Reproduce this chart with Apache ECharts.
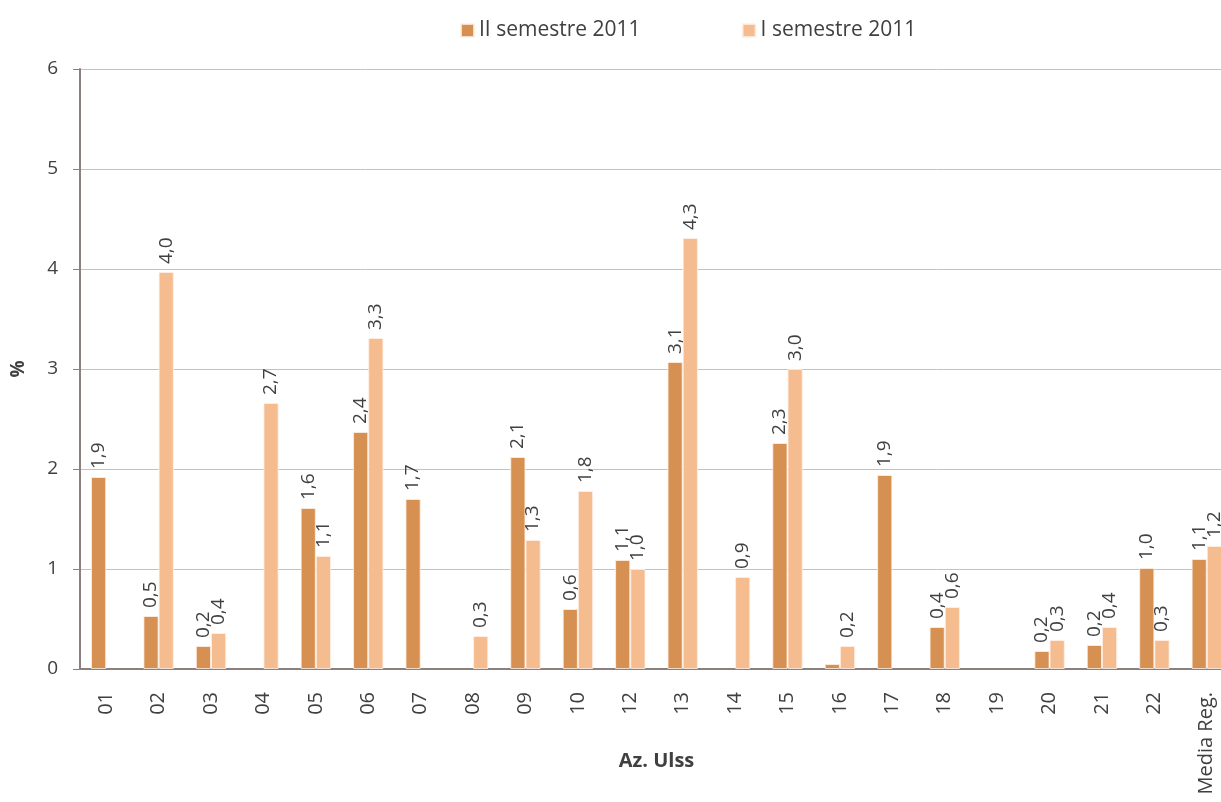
<!DOCTYPE html>
<html><head><meta charset="utf-8">
<script src="https://cdn.jsdelivr.net/npm/echarts@6/dist/echarts.min.js"></script>
<style>html,body{margin:0;padding:0;background:#fff}#c{width:1221px;height:802px}</style>
</head><body><div id="c"></div>
<script>
const categories = ['01','02','03','04','05','06','07','08','09','10','12','13','14','15','16','17','18','19','20','21','22','Media Reg.'];
const seriesNames = ['II semestre 2011','I semestre 2011'];
const sem2 = [1.92,0.53,0.23,null,1.61,2.37,1.70,null,2.12,0.60,1.09,3.07,null,2.26,0.05,1.94,0.42,null,0.18,0.24,1.01,1.10];
const sem1 = [null,3.97,0.36,2.66,1.13,3.31,null,0.33,1.29,1.78,1.00,4.31,0.92,3.00,0.23,null,0.62,null,0.29,0.42,0.29,1.23];
const yTicks = [0,1,2,3,4,5,6];

const font = '"Open Sans", sans-serif';
const fmt = p => (p.value == null || p.value < 0.1) ? '' : p.value.toFixed(1).replace('.', ',');
const label = {show:true, position:'top', rotate:90, align:'left', verticalAlign:'middle', distance:8,
  color:'#404040', fontSize:19, fontFamily:font, formatter:fmt};

const chart = echarts.init(document.getElementById('c'), null, {renderer:'canvas'});
chart.setOption({
  animation:false,
  textStyle:{fontFamily:font},
  legend:{top:15, left:455, itemWidth:13, itemHeight:13, itemGap:101, icon:'rect',
    textStyle:{fontSize:21, color:'#404040', fontFamily:font},
    data:seriesNames},
  grid:{left:80, top:69, height:600, width:1153, outerBoundsMode:'none', containLabel:false},
  xAxis:{type:'category', data:categories, name:'Az. Ulss', nameLocation:'middle', nameGap:82, nameMoveOverlap:false,
    nameTextStyle:{fontSize:20, fontWeight:'bold', color:'#404040', fontFamily:font},
    axisLine:{lineStyle:{color:'#8c7f7d', width:2}}, axisTick:{show:false},
    axisLabel:{rotate:90, fontSize:20, color:'#404040', margin:23, fontFamily:font, interval:0}},
  yAxis:{type:'value', min:0, max:6, interval:1, name:'%', nameLocation:'middle', nameGap:52, nameMoveOverlap:false,
    nameTextStyle:{fontSize:19, fontWeight:'bold', color:'#404040', fontFamily:font},
    axisLine:{show:true, lineStyle:{color:'#8c7f7d', width:2}},
    axisTick:{show:true, length:7, lineStyle:{color:'#8c7f7d'}},
    axisLabel:{fontSize:19, color:'#404040', margin:22, fontFamily:font,
      formatter: v => yTicks.includes(v) ? String(v) : ''},
    splitLine:{lineStyle:{color:'#c8c0be', width:1}}},
  series:[
    {name:seriesNames[0], type:'bar', data:sem2, barGap:'0%', barCategoryGap:'42%',
     itemStyle:{color:'#d69152', borderColor:'rgba(255,240,230,0.8)', borderWidth:1}, label:label},
    {name:seriesNames[1], type:'bar', data:sem1,
     itemStyle:{color:'#f5bc90', borderColor:'rgba(255,240,230,0.8)', borderWidth:1}, label:label}
  ]
});
</script></body></html>
